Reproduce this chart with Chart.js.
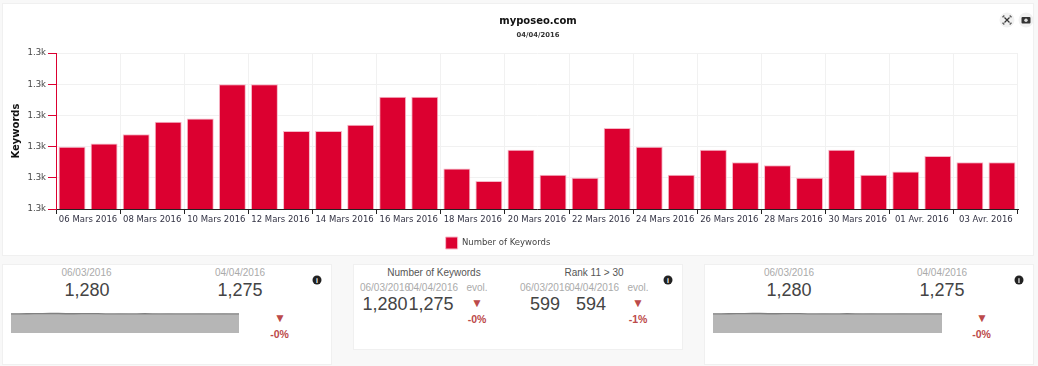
<!DOCTYPE html>
<html><head><meta charset="utf-8">
<script src="https://cdn.jsdelivr.net/npm/chart.js@4"></script>
<style>
html,body{margin:0;padding:0;width:1038px;height:366px;overflow:hidden;background:#f8f8f8;}
.p{position:absolute;background:#fff;border:1px solid #f0f0f0;box-sizing:border-box;}
.t{position:absolute;transform:translate(-50%,-50%);white-space:nowrap;font-family:"Liberation Sans",Arial,sans-serif;}
.d{font-size:10px;color:#aaa;}.n{font-size:18px;color:#444;}.h{font-size:10px;color:#555;}
.e{font-size:10.500px;font-weight:bold;color:#bc4a4a;}.r{font-size:12px;color:#bc4a4a;}
.i{width:9px;height:9px;border-radius:50%;background:#222;color:#fff;font:bold 7px/9px "Liberation Sans";text-align:center;}
.b{width:15px;height:15px;border-radius:50%;background:#f1f1f1;position:absolute;transform:translate(-50%,-50%);}
canvas{position:absolute;}
</style></head><body>
<div class="p" style="left:2px;top:3px;width:1032px;height:253px"></div>
<div class="p" style="left:2px;top:264px;width:330px;height:101px"></div>
<div class="p" style="left:353px;top:264px;width:330px;height:86px"></div>
<div class="p" style="left:704px;top:264px;width:330px;height:101px"></div>
<div style="position:absolute;left:0;top:0;width:1038px;height:260px"><canvas id="main"></canvas></div>
<div style="position:absolute;left:11px;top:312px;width:228px;height:21px"><canvas id="s1"></canvas></div>
<div style="position:absolute;left:713px;top:312px;width:229px;height:21px"><canvas id="s2"></canvas></div>
<div class="b" style="left:1007px;top:20px"><svg width="15" height="15" viewBox="0 0 15 15" style="display:block"><path d="M5 5l5 5M10 5l-5 5" stroke="#333" stroke-width="1.200"/><path d="M3.500 5V3.500H5M10 3.500h1.500V5M11.500 10v1.500H10M5 11.500H3.500V10" stroke="#333" fill="none"/></svg></div>
<div class="b" style="left:1026px;top:20px"><svg width="15" height="15" viewBox="0 0 15 15" style="display:block"><rect x="3" y="4.500" width="9" height="6.500" rx="1" fill="#333"/><circle cx="7.500" cy="7.700" r="1.700" fill="#ddd"/></svg></div>
<script>
const dates = ["06 Mars 2016","07 Mars 2016","08 Mars 2016","09 Mars 2016","10 Mars 2016","11 Mars 2016","12 Mars 2016","13 Mars 2016","14 Mars 2016","15 Mars 2016","16 Mars 2016","17 Mars 2016","18 Mars 2016","19 Mars 2016","20 Mars 2016","21 Mars 2016","22 Mars 2016","23 Mars 2016","24 Mars 2016","25 Mars 2016","26 Mars 2016","27 Mars 2016","28 Mars 2016","29 Mars 2016","30 Mars 2016","31 Mars 2016","01 Avr. 2016","02 Avr. 2016","03 Avr. 2016","04 Avr. 2016"];
const keywords = [1280,1281,1284,1288,1289,1300,1300,1285,1285,1287,1296,1296,1273,1269,1279,1271,1270,1286,1280,1271,1279,1275,1274,1270,1279,1271,1272,1277,1275,1275];
const RED = "#dc0030";
const FONT = "'DejaVu Sans',Verdana,sans-serif";
Chart.defaults.animation = false;
Chart.defaults.responsive = true;
Chart.defaults.maintainAspectRatio = false;

const shiftBoxes = {
  id: "shiftBoxes",
  afterLayout(chart) {
    chart.boxes.forEach(b => {
      const d = b.legendItems ? -16 : (b.options && b.options.text ? 24 : 0);
      if (d && b.position !== "left" && !b.axis) { b.left += d; b.right += d; }
    });
  }
};

new Chart(document.getElementById("main"), {
  type: "bar",
  plugins: [shiftBoxes],
  data: { labels: dates, datasets: [{ label: "Number of Keywords", data: keywords, backgroundColor: RED, borderColor: "#f6b8c8", borderWidth: 1, barPercentage: 0.84, categoryPercentage: 1 }] },
  options: {
    layout: { padding: { left: 10, right: 20, top: 15, bottom: 1 } },
    plugins: {
      tooltip: { enabled: false },
      title: { display: true, text: "myposeo.com", color: "#111", font: { family: FONT, size: 10, weight: "bold" }, padding: { top: 0, bottom: 4 } },
      subtitle: { display: true, text: "04/04/2016", color: "#333", font: { family: FONT, size: 6.800, weight: "bold" }, padding: { top: 0, bottom: 14 } },
      legend: { position: "bottom", labels: { boxWidth: 12, boxHeight: 12, color: "#444", font: { family: FONT, size: 8.500 }, padding: 6 } }
    },
    scales: {
      x: {
        offset: true,
        border: { display: true, color: "#222", width: 1 },
        grid: { offset: true, tickLength: 5, drawTicks: true, drawOnChartArea: true,
          color: c => (c.index === undefined || c.index % 2 === 0) ? "#f1f1f1" : "transparent",
          tickColor: c => (c.index === undefined || c.index % 2 === 0) ? "#222" : "transparent" },
        ticks: { autoSkip: false, maxRotation: 0, minRotation: 0, labelOffset: 16, padding: 1, color: "#334", font: { family: FONT, size: 8.500 },
          callback(v, i) { return i % 2 === 0 ? this.getLabelForValue(v) : ""; } },
        afterFit(s) { s.height = 22; }
      },
      y: {
        min: 1260, max: 1310,
        border: { color: RED, width: 1 },
        title: { display: true, text: "Keywords", color: "#111", font: { family: FONT, size: 10, weight: "bold" }, padding: 0 },
        grid: { color: "#f1f1f1", tickLength: 8, tickColor: RED },
        ticks: { stepSize: 10, padding: 2, color: "#444", font: { family: FONT, size: 8.500 }, callback: v => (v / 1000).toFixed(1) + "k" },
        afterFit(s) { s.width = 46; }
      }
    }
  }
});

function spark(id) {
  new Chart(document.getElementById(id), {
    type: "line",
    data: { labels: dates, datasets: [{ data: keywords, fill: true, clip: false, backgroundColor: "#b6b6b6", borderColor: "#808080", borderWidth: 1.300, pointRadius: 0, tension: 0 }] },
    options: { layout: { padding: 0 }, plugins: { legend: { display: false }, tooltip: { enabled: false } },
      scales: { x: { display: false }, y: { display: false, min: 0, max: 1400 } } }
  });
}
spark("s1"); spark("s2");

const startDate = "06/03/2016", endDate = "04/04/2016", evolLabel = "evol.";
const texts = [
  [86.500,272,"d",startDate],[240,272,"d",endDate],[87,290,"n","1,280"],[240,290,"n","1,275"],[280,318,"r","▼"],[279.500,334,"e","-0%"],
  [789,272,"d",startDate],[942,272,"d",endDate],[789,290,"n","1,280"],[942,290,"n","1,275"],[982,318,"r","▼"],[981.500,334,"e","-0%"],
  [434,272,"h","Number of Keywords"],[594,272,"h","Rank 11 > 30"],
  [385,287,"d",startDate],[433,287,"d",endDate],[477,287,"d",evolLabel],[545,287,"d",startDate],[594,287,"d",endDate],[638,287,"d",evolLabel],
  [385,304,"n","1,280"],[431,304,"n","1,275"],[545,304,"n","599"],[591,304,"n","594"],
  [477,303,"r","▼"],[477,319,"e","-0%"],[638,303,"r","▼"],[638,319,"e","-1%"],
  [317,280,"i","i"],[668,280,"i","i"],[1019,280,"i","i"]
];
for (const [x, y, c, s] of texts) {
  const el = document.createElement("div");
  el.className = "t " + c; el.textContent = s;
  el.style.left = x + "px"; el.style.top = y + "px";
  document.body.appendChild(el);
}
</script>
</body></html>
